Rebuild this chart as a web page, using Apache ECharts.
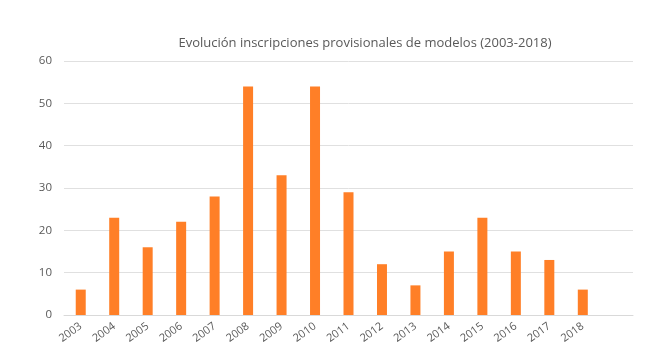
<!DOCTYPE html>
<html><head><meta charset="utf-8">
<script src="https://cdn.jsdelivr.net/npm/echarts@6/dist/echarts.min.js"></script>
<style>html,body{margin:0;padding:0;background:#fff}#c{width:650px;height:362px}</style>
</head><body><div id="c"></div>
<script>
const titleText = 'Evolución inscripciones provisionales de modelos (2003-2018)';
const years = ['2003','2004','2005','2006','2007','2008','2009','2010','2011','2012','2013','2014','2015','2016','2017','2018'];
const values = [6,23,16,22,28,54,33,54,29,12,7,15,23,15,13,6];
const yTicks = {min:0, max:60, interval:10};

const chart = echarts.init(document.getElementById('c'), null, {renderer:'canvas'});
chart.setOption({
  animation:false,
  backgroundColor:'#fff',
  title:{text:titleText, left:360, top:32, textAlign:'center',
    textStyle:{fontFamily:'Open Sans', fontSize:13, fontWeight:'normal', color:'#595959'}},
  grid:{left:64, right:17, top:61, bottom:47, containLabel:false},
  xAxis:{type:'category', data:years.concat(['']),
    axisLine:{lineStyle:{color:'#d9d9d9', width:1}}, axisTick:{show:false},
    axisLabel:{rotate:36, color:'#595959', fontFamily:'Open Sans', fontSize:11, margin:10, interval:0}},
  yAxis:{type:'value', min:yTicks.min, max:yTicks.max, interval:yTicks.interval,
    axisLine:{show:false}, axisTick:{show:false},
    splitLine:{lineStyle:{color:'#e0e0e0', width:1}},
    axisLabel:{color:'#595959', fontFamily:'Open Sans', fontSize:11.5, margin:12}},
  series:[{type:'bar', data:values, barWidth:10, itemStyle:{color:'#ff7f27'}}]
});
</script></body></html>
